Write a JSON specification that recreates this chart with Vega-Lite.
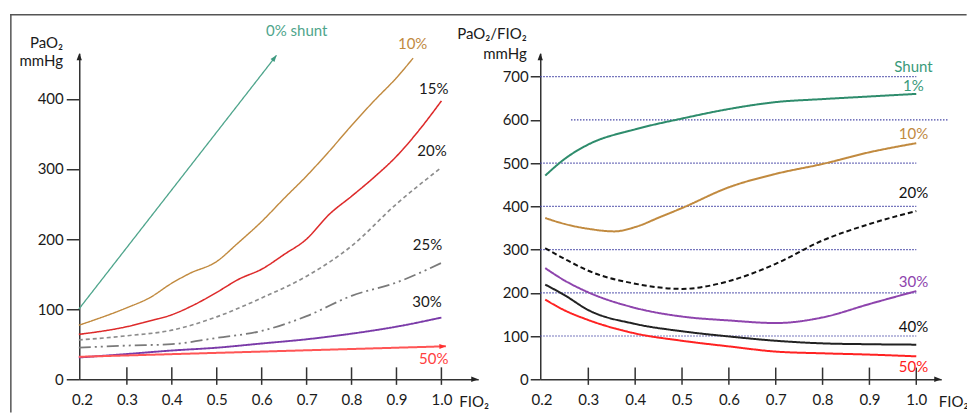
{
  "$schema": "https://vega.github.io/schema/vega-lite/v6.json",
  "padding": {"left": 9.25, "top": 13.25, "right": 0, "bottom": 0},
  "config": {
    "font": "Lato",
    "view": {"stroke": null},
    "axis": {"grid": false, "domainColor": "#333", "domainWidth": 1.5, "tickColor": "#333", "tickWidth": 1.5, "labelFont": "Lato", "labelFontSize": 15, "labelColor": "#1a1a1a", "titleFont": "Lato", "titleFontSize": 15, "titleFontWeight": "normal", "titleColor": "#1a1a1a"}
  },
  "datasets": {
    "L": [
      {"s": "0% shunt", "f": 0.193, "v": 100}, {"s": "0% shunt", "f": 0.633, "v": 462},
      {"s": "10%", "f": 0.193, "v": 77}, {"s": "10%", "f": 0.3, "v": 102}, {"s": "10%", "f": 0.35, "v": 116}, {"s": "10%", "f": 0.4, "v": 137}, {"s": "10%", "f": 0.44, "v": 151}, {"s": "10%", "f": 0.5, "v": 168}, {"s": "10%", "f": 0.545, "v": 193}, {"s": "10%", "f": 0.6, "v": 225}, {"s": "10%", "f": 0.65, "v": 258}, {"s": "10%", "f": 0.7, "v": 290}, {"s": "10%", "f": 0.75, "v": 325}, {"s": "10%", "f": 0.8, "v": 362}, {"s": "10%", "f": 0.85, "v": 397}, {"s": "10%", "f": 0.9, "v": 430}, {"s": "10%", "f": 0.937, "v": 458},
      {"s": "15%", "f": 0.193, "v": 64}, {"s": "15%", "f": 0.3, "v": 75}, {"s": "15%", "f": 0.35, "v": 83}, {"s": "15%", "f": 0.4, "v": 92}, {"s": "15%", "f": 0.446, "v": 105}, {"s": "15%", "f": 0.5, "v": 124}, {"s": "15%", "f": 0.55, "v": 143}, {"s": "15%", "f": 0.6, "v": 157}, {"s": "15%", "f": 0.65, "v": 178}, {"s": "15%", "f": 0.7, "v": 200}, {"s": "15%", "f": 0.75, "v": 235}, {"s": "15%", "f": 0.8, "v": 261}, {"s": "15%", "f": 0.85, "v": 288}, {"s": "15%", "f": 0.9, "v": 318}, {"s": "15%", "f": 0.95, "v": 355}, {"s": "15%", "f": 1.0, "v": 397},
      {"s": "20%", "f": 0.193, "v": 56}, {"s": "20%", "f": 0.3, "v": 62}, {"s": "20%", "f": 0.4, "v": 70}, {"s": "20%", "f": 0.5, "v": 89}, {"s": "20%", "f": 0.6, "v": 116}, {"s": "20%", "f": 0.7, "v": 147}, {"s": "20%", "f": 0.8, "v": 190}, {"s": "20%", "f": 0.9, "v": 250}, {"s": "20%", "f": 1.0, "v": 302},
      {"s": "25%", "f": 0.193, "v": 45}, {"s": "25%", "f": 0.3, "v": 48}, {"s": "25%", "f": 0.4, "v": 50}, {"s": "25%", "f": 0.5, "v": 59}, {"s": "25%", "f": 0.6, "v": 69}, {"s": "25%", "f": 0.7, "v": 90}, {"s": "25%", "f": 0.8, "v": 119}, {"s": "25%", "f": 0.9, "v": 138}, {"s": "25%", "f": 1.0, "v": 166},
      {"s": "30%", "f": 0.193, "v": 31}, {"s": "30%", "f": 0.3, "v": 36}, {"s": "30%", "f": 0.4, "v": 41}, {"s": "30%", "f": 0.5, "v": 45}, {"s": "30%", "f": 0.6, "v": 51}, {"s": "30%", "f": 0.7, "v": 57}, {"s": "30%", "f": 0.8, "v": 65}, {"s": "30%", "f": 0.9, "v": 75}, {"s": "30%", "f": 1.0, "v": 88},
      {"s": "50%", "f": 0.193, "v": 32}, {"s": "50%", "f": 1.01, "v": 47}
    ],
    "LL": [
      {"t": "0% shunt", "f": 0.678, "v": 497}, {"t": "10%", "f": 0.936, "v": 478}, {"t": "15%", "f": 0.983, "v": 414}, {"t": "20%", "f": 0.979, "v": 326}, {"t": "25%", "f": 0.969, "v": 191}, {"t": "30%", "f": 0.968, "v": 110}, {"t": "50%", "f": 0.983, "v": 29}
    ],
    "R": [
      {"s": "1%", "f": 0.208, "v": 471}, {"s": "1%", "f": 0.25, "v": 510}, {"s": "1%", "f": 0.3, "v": 543}, {"s": "1%", "f": 0.4, "v": 578}, {"s": "1%", "f": 0.5, "v": 603}, {"s": "1%", "f": 0.6, "v": 625}, {"s": "1%", "f": 0.7, "v": 641}, {"s": "1%", "f": 0.8, "v": 648}, {"s": "1%", "f": 0.9, "v": 654}, {"s": "1%", "f": 1.0, "v": 660},
      {"s": "10%", "f": 0.208, "v": 373}, {"s": "10%", "f": 0.25, "v": 359}, {"s": "10%", "f": 0.3, "v": 348}, {"s": "10%", "f": 0.356, "v": 342}, {"s": "10%", "f": 0.4, "v": 352}, {"s": "10%", "f": 0.455, "v": 376}, {"s": "10%", "f": 0.5, "v": 396}, {"s": "10%", "f": 0.6, "v": 444}, {"s": "10%", "f": 0.7, "v": 475}, {"s": "10%", "f": 0.8, "v": 498}, {"s": "10%", "f": 0.9, "v": 525}, {"s": "10%", "f": 1.0, "v": 546},
      {"s": "20%", "f": 0.208, "v": 303}, {"s": "20%", "f": 0.25, "v": 278}, {"s": "20%", "f": 0.3, "v": 251}, {"s": "20%", "f": 0.4, "v": 221}, {"s": "20%", "f": 0.5, "v": 209}, {"s": "20%", "f": 0.6, "v": 227}, {"s": "20%", "f": 0.7, "v": 267}, {"s": "20%", "f": 0.8, "v": 321}, {"s": "20%", "f": 0.9, "v": 359}, {"s": "20%", "f": 1.0, "v": 389},
      {"s": "30%", "f": 0.208, "v": 257}, {"s": "30%", "f": 0.25, "v": 228}, {"s": "30%", "f": 0.3, "v": 201}, {"s": "30%", "f": 0.4, "v": 165}, {"s": "30%", "f": 0.5, "v": 145}, {"s": "30%", "f": 0.6, "v": 136}, {"s": "30%", "f": 0.7, "v": 130}, {"s": "30%", "f": 0.8, "v": 143}, {"s": "30%", "f": 0.9, "v": 174}, {"s": "30%", "f": 1.0, "v": 204},
      {"s": "40%", "f": 0.208, "v": 219}, {"s": "40%", "f": 0.25, "v": 194}, {"s": "40%", "f": 0.3, "v": 160}, {"s": "40%", "f": 0.4, "v": 128}, {"s": "40%", "f": 0.5, "v": 111}, {"s": "40%", "f": 0.6, "v": 99}, {"s": "40%", "f": 0.7, "v": 89}, {"s": "40%", "f": 0.8, "v": 83}, {"s": "40%", "f": 0.9, "v": 81}, {"s": "40%", "f": 1.0, "v": 80},
      {"s": "50%", "f": 0.208, "v": 184}, {"s": "50%", "f": 0.25, "v": 159}, {"s": "50%", "f": 0.3, "v": 137}, {"s": "50%", "f": 0.4, "v": 106}, {"s": "50%", "f": 0.5, "v": 89}, {"s": "50%", "f": 0.6, "v": 76}, {"s": "50%", "f": 0.7, "v": 64}, {"s": "50%", "f": 0.8, "v": 60}, {"s": "50%", "f": 0.9, "v": 57}, {"s": "50%", "f": 1.0, "v": 53}
    ],
    "RL": [
      {"t": "Shunt", "f": 0.994, "v": 723}, {"t": "1%", "f": 0.994, "v": 678}, {"t": "10%", "f": 0.994, "v": 567}, {"t": "20%", "f": 0.994, "v": 430}, {"t": "30%", "f": 0.994, "v": 224}, {"t": "40%", "f": 0.994, "v": 122}, {"t": "50%", "f": 0.994, "v": 28}
    ],
    "G": [
      {"v": 100, "a": 0.1974, "b": 1.0}, {"v": 200, "a": 0.1974, "b": 1.0}, {"v": 300, "a": 0.1974, "b": 1.0}, {"v": 400, "a": 0.1974, "b": 1.0}, {"v": 500, "a": 0.1974, "b": 1.0}, {"v": 600, "a": 0.263, "b": 1.069}, {"v": 700, "a": 0.1974, "b": 1.0}
    ],
    "T": [{"f": 0.3}, {"f": 0.4}, {"f": 0.5}, {"f": 0.6}, {"f": 0.7}, {"f": 0.8}, {"f": 0.9}, {"f": 1.0}],
    "ONE": [{"k": 1}]
  },
  "bounds": "flush",
  "spacing": 62,
  "resolve": {"scale": {"color": "independent", "strokeDash": "independent", "strokeWidth": "independent", "x": "independent", "y": "independent"}},
  "hconcat": [
    {
      "width": 399,
      "height": 326,
      "resolve": {"scale": {"color": "independent"}},
      "layer": [
        {
          "data": {"name": "ONE"},
          "mark": {"type": "rule", "color": "#555", "strokeWidth": 1.5, "strokeCap": "square"},
          "encoding": {
            "x": {"datum": 0.04177, "type": "quantitative", "scale": {"domain": [0.194, 1.082], "nice": false, "zero": false}},
            "x2": {"datum": 2.1672},
            "y": {"datum": 519.9, "type": "quantitative", "scale": {"domain": [0, 465], "nice": false}}
          }
        },
        {
          "data": {"name": "ONE"},
          "mark": {"type": "rule", "color": "#555", "strokeWidth": 1.5, "strokeCap": "square"},
          "encoding": {
            "x": {"datum": 0.04177, "type": "quantitative", "scale": {"domain": [0.194, 1.082], "nice": false, "zero": false}},
            "y": {"datum": 519.9, "type": "quantitative", "scale": {"domain": [0, 465], "nice": false}},
            "y2": {"datum": -46.35}
          }
        },
        {
          "data": {"name": "L"},
          "mark": {"type": "line", "interpolate": "monotone"},
          "encoding": {
            "x": {"field": "f", "type": "quantitative", "scale": {"domain": [0.194, 1.082], "nice": false, "zero": false},
              "axis": {"values": [0.2, 0.3, 0.4, 0.5, 0.6, 0.7, 0.8, 0.9, 1.0], "format": ".1f", "ticks": false, "labelPadding": 13, "labelFlush": false, "title": "FIO₂", "titleAngle": 0, "titleAlign": "left", "titleBaseline": "alphabetic", "titleX": 379.6, "titleY": 27}},
            "y": {"field": "v", "type": "quantitative", "scale": {"domain": [0, 465], "nice": false},
              "axis": {"values": [0, 100, 200, 300, 400], "tickSize": 13, "labelPadding": 3, "labelFlush": false, "title": ["PaO₂", "mmHg"], "titleAngle": 0, "titleAlign": "right", "titleBaseline": "alphabetic", "titleX": -16.7, "titleY": -5.5, "titleLineHeight": 18}},
            "color": {"field": "s", "type": "nominal", "legend": null, "scale": {"domain": ["0% shunt", "10%", "15%", "20%", "25%", "30%", "50%"], "range": ["#4FA58C", "#C18A3F", "#DD2A2A", "#8C8C8C", "#7A7A7A", "#7A3AA8", "#FF5555"]}},
            "strokeDash": {"field": "s", "type": "nominal", "legend": null, "scale": {"domain": ["0% shunt", "10%", "15%", "20%", "25%", "30%", "50%"], "range": [[1, 0], [1, 0], [1, 0], [4, 3], [12, 4, 2, 4, 2, 4], [1, 0], [1, 0]]}},
            "strokeWidth": {"field": "s", "type": "ordinal", "legend": null, "scale": {"domain": ["0% shunt", "10%", "15%", "20%", "25%", "30%", "50%"], "range": [1.3, 2, 2, 2, 2, 2, 1.5]}}
          }
        },
        {
          "data": {"name": "T"},
          "mark": {"type": "rule", "color": "#333", "strokeWidth": 1.5},
          "encoding": {
            "x": {"field": "f", "type": "quantitative", "scale": {"domain": [0.194, 1.082], "nice": false, "zero": false}},
            "y": {"datum": -8, "type": "quantitative", "scale": {"domain": [0, 465], "nice": false}},
            "y2": {"datum": 17}
          }
        },
        {
          "data": {"name": "ONE"},
          "mark": {"type": "point", "shape": "M0,0L0.38,1L-0.38,1Z", "filled": true, "opacity": 1, "size": 196, "color": "#222", "angle": 0},
          "encoding": {
            "x": {"datum": 0.194, "type": "quantitative", "scale": {"domain": [0.194, 1.082], "nice": false, "zero": false}},
            "y": {"datum": 465, "type": "quantitative", "scale": {"domain": [0, 465], "nice": false}}
          }
        },
        {
          "data": {"name": "ONE"},
          "mark": {"type": "point", "shape": "M0,0L0.38,1L-0.38,1Z", "filled": true, "opacity": 1, "size": 196, "color": "#222", "angle": 90},
          "encoding": {
            "x": {"datum": 1.082, "type": "quantitative", "scale": {"domain": [0.194, 1.082], "nice": false, "zero": false}},
            "y": {"datum": 0, "type": "quantitative", "scale": {"domain": [0, 465], "nice": false}}
          }
        },
        {
          "data": {"name": "ONE"},
          "mark": {"type": "point", "shape": "M0,0L0.38,1L-0.38,1Z", "filled": true, "opacity": 1, "size": 170, "color": "#3E9A80", "angle": 38},
          "encoding": {
            "x": {"datum": 0.633, "type": "quantitative", "scale": {"domain": [0.194, 1.082], "nice": false, "zero": false}},
            "y": {"datum": 462, "type": "quantitative", "scale": {"domain": [0, 465], "nice": false}}
          }
        },
        {
          "data": {"name": "ONE"},
          "mark": {"type": "point", "shape": "M0,0L0.38,1L-0.38,1Z", "filled": true, "opacity": 1, "size": 170, "color": "#FF3030", "angle": 88.4},
          "encoding": {
            "x": {"datum": 1.01, "type": "quantitative", "scale": {"domain": [0.194, 1.082], "nice": false, "zero": false}},
            "y": {"datum": 47, "type": "quantitative", "scale": {"domain": [0, 465], "nice": false}}
          }
        },
        {
          "data": {"name": "LL"},
          "mark": {"type": "text", "fontSize": 15, "align": "center", "baseline": "middle"},
          "encoding": {
            "x": {"field": "f", "type": "quantitative", "scale": {"domain": [0.194, 1.082], "nice": false, "zero": false}},
            "y": {"field": "v", "type": "quantitative", "scale": {"domain": [0, 465], "nice": false}},
            "text": {"field": "t"},
            "color": {"field": "t", "type": "nominal", "legend": null, "scale": {"domain": ["0% shunt", "10%", "15%", "20%", "25%", "30%", "50%"], "range": ["#4FA58C", "#C18A3F", "#1a1a1a", "#1a1a1a", "#1a1a1a", "#1a1a1a", "#FF4040"]}}
          }
        }
      ]
    },
    {
      "width": 401,
      "height": 326,
      "resolve": {"scale": {"color": "independent"}},
      "layer": [
        {
          "data": {"name": "G"},
          "mark": {"type": "rule", "color": "#4A4AA8", "strokeWidth": 1.2, "strokeDash": [1.5, 1.5]},
          "encoding": {
            "x": {"field": "a", "type": "quantitative", "scale": {"domain": [0.1974, 1.0533], "nice": false, "zero": false}},
            "x2": {"field": "b"},
            "y": {"field": "v", "type": "quantitative", "scale": {"domain": [0, 754], "nice": false}}
          }
        },
        {
          "data": {"name": "R"},
          "mark": {"type": "line", "interpolate": "monotone", "strokeWidth": 2},
          "encoding": {
            "x": {"field": "f", "type": "quantitative", "scale": {"domain": [0.1974, 1.0533], "nice": false, "zero": false},
              "axis": {"values": [0.2, 0.3, 0.4, 0.5, 0.6, 0.7, 0.8, 0.9, 1.0], "format": ".1f", "ticks": false, "labelPadding": 13, "labelFlush": false, "title": "FIO₂", "titleAngle": 0, "titleAlign": "left", "titleBaseline": "alphabetic", "titleX": 398, "titleY": 27}},
            "y": {"field": "v", "type": "quantitative", "scale": {"domain": [0, 754], "nice": false},
              "axis": {"values": [0, 100, 200, 300, 400, 500, 600, 700], "tickSize": 10, "labelPadding": 2, "labelFlush": false, "title": ["PaO₂/FIO₂", "mmHg"], "titleAngle": 0, "titleAlign": "right", "titleBaseline": "alphabetic", "titleX": -14, "titleY": -15, "titleLineHeight": 20}},
            "color": {"field": "s", "type": "nominal", "legend": null, "scale": {"domain": ["1%", "10%", "20%", "30%", "40%", "50%"], "range": ["#2E8C6C", "#C18A3F", "#111111", "#8E44AD", "#222222", "#FF2222"]}},
            "strokeDash": {"field": "s", "type": "nominal", "legend": null, "scale": {"domain": ["1%", "10%", "20%", "30%", "40%", "50%"], "range": [[1, 0], [1, 0], [5, 3], [1, 0], [1, 0], [1, 0]]}}
          }
        },
        {
          "data": {"name": "T"},
          "mark": {"type": "rule", "color": "#333", "strokeWidth": 1.5},
          "encoding": {
            "x": {"field": "f", "type": "quantitative", "scale": {"domain": [0.1974, 1.0533], "nice": false, "zero": false}},
            "y": {"datum": -13, "type": "quantitative", "scale": {"domain": [0, 754], "nice": false}},
            "y2": {"datum": 27}
          }
        },
        {
          "data": {"name": "ONE"},
          "mark": {"type": "point", "shape": "M0,0L0.38,1L-0.38,1Z", "filled": true, "opacity": 1, "size": 196, "color": "#222", "angle": 0},
          "encoding": {
            "x": {"datum": 0.1974, "type": "quantitative", "scale": {"domain": [0.1974, 1.0533], "nice": false, "zero": false}},
            "y": {"datum": 754, "type": "quantitative", "scale": {"domain": [0, 754], "nice": false}}
          }
        },
        {
          "data": {"name": "ONE"},
          "mark": {"type": "point", "shape": "M0,0L0.38,1L-0.38,1Z", "filled": true, "opacity": 1, "size": 196, "color": "#222", "angle": 90},
          "encoding": {
            "x": {"datum": 1.0533, "type": "quantitative", "scale": {"domain": [0.1974, 1.0533], "nice": false, "zero": false}},
            "y": {"datum": 0, "type": "quantitative", "scale": {"domain": [0, 754], "nice": false}}
          }
        },
        {
          "data": {"name": "RL"},
          "mark": {"type": "text", "fontSize": 15, "align": "center", "baseline": "middle"},
          "encoding": {
            "x": {"field": "f", "type": "quantitative", "scale": {"domain": [0.1974, 1.0533], "nice": false, "zero": false}},
            "y": {"field": "v", "type": "quantitative", "scale": {"domain": [0, 754], "nice": false}},
            "text": {"field": "t"},
            "color": {"field": "t", "type": "nominal", "legend": null, "scale": {"domain": ["Shunt", "1%", "10%", "20%", "30%", "40%", "50%"], "range": ["#3A9A7A", "#3A9A7A", "#C18A3F", "#111111", "#8E44AD", "#111111", "#FF2222"]}}
          }
        }
      ]
    }
  ]
}
